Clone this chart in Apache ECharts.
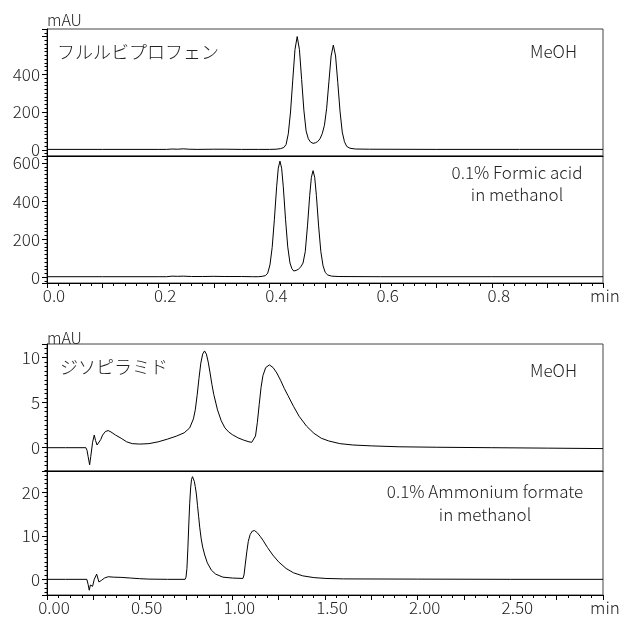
<!DOCTYPE html>
<html><head><meta charset="utf-8">
<script src="https://cdn.jsdelivr.net/npm/echarts@6/dist/echarts.min.js"></script>
<style>html,body{margin:0;padding:0;background:#fff}#c{width:624px;height:620px}</style>
</head><body><div id="c"></div>
<script>
// Flurbiprofen, MeOH (time min, mAU)
const flurMeOH = [[0,2],[0.1,2],[0.2,2],[0.215,2],[0.225,4],[0.235,3],[0.245,5],[0.255,3],[0.27,2],[0.3,3],[0.32,3],[0.35,2],[0.38,2],[0.4,2],[0.412,3],[0.42,6],[0.426,12],[0.43,28],[0.434,85],[0.438,200],[0.442,369],[0.446,531],[0.45,600],[0.454,531],[0.458,372],[0.462,210],[0.466,100],[0.47,58],[0.474,41],[0.4785,34],[0.483,37],[0.487,44],[0.491,58],[0.495,85],[0.499,130],[0.503,220],[0.507,360],[0.511,497],[0.515,555],[0.519,497],[0.523,356],[0.527,205],[0.531,94],[0.535,43],[0.539,18],[0.545,8],[0.555,4],[0.58,3],[0.7,2],[0.85,2],[1.0,2]];
// Flurbiprofen, 0.1% formic acid in methanol
const flurFormic = [[0,3],[0.1,3],[0.2,3],[0.215,3],[0.225,6],[0.235,5],[0.245,6],[0.26,4],[0.28,4],[0.3,5],[0.32,4],[0.35,4],[0.37,3],[0.38,3],[0.387,5],[0.393,9],[0.397,22],[0.401,65],[0.405,157],[0.409,305],[0.413,475],[0.416,573],[0.419,610],[0.422,573],[0.425,475],[0.429,305],[0.433,160],[0.437,75],[0.4405,45],[0.4438,33],[0.448,36],[0.452,42],[0.4565,55],[0.4605,75],[0.4645,135],[0.4685,270],[0.4725,430],[0.4755,525],[0.4785,560],[0.4815,525],[0.4845,430],[0.4885,270],[0.4925,135],[0.4965,60],[0.5005,25],[0.505,12],[0.512,6],[0.525,4],[0.6,3],[0.8,3],[1.0,3]];
// Disopyramide, MeOH
const disoMeOH = [[0,0],[0.1,0],[0.21,0],[0.216,-0.3],[0.222,-1.0],[0.23,-1.9],[0.236,-1.0],[0.246,0.6],[0.255,1.4],[0.262,0.8],[0.27,0.3],[0.28,0.3],[0.29,0.9],[0.3,1.4],[0.315,1.8],[0.33,1.9],[0.345,1.75],[0.37,1.4],[0.4,1.05],[0.43,0.65],[0.46,0.45],[0.5,0.4],[0.55,0.45],[0.6,0.65],[0.65,0.95],[0.7,1.3],[0.74,1.65],[0.77,2.2],[0.79,3.2],[0.8,4.2],[0.81,5.8],[0.82,7.7],[0.83,9.4],[0.84,10.4],[0.85,10.75],[0.86,10.4],[0.87,9.5],[0.88,8.3],[0.89,7.0],[0.9,5.9],[0.92,4.2],[0.94,3.0],[0.96,2.2],[0.98,1.75],[1.0,1.45],[1.03,1.1],[1.06,0.85],[1.09,0.65],[1.105,0.6],[1.115,0.75],[1.125,1.3],[1.135,2.8],[1.145,4.8],[1.155,6.7],[1.165,8.0],[1.18,8.9],[1.2,9.2],[1.22,8.9],[1.24,8.3],[1.26,7.5],[1.28,6.6],[1.3,5.8],[1.33,4.6],[1.36,3.5],[1.4,2.4],[1.44,1.6],[1.48,1.05],[1.52,0.75],[1.58,0.45],[1.65,0.3],[1.75,0.2],[1.9,0.1],[2.1,0.05],[2.4,0],[2.7,-0.05],[3.0,-0.1]];
// Disopyramide, 0.1% ammonium formate in methanol
const disoAmmonium = [[0,0],[0.1,0],[0.215,0],[0.222,-1.2],[0.228,-2.5],[0.234,-1.3],[0.24,-1.0],[0.246,-1.6],[0.255,0],[0.268,1.2],[0.28,-0.6],[0.295,-0.2],[0.31,0.3],[0.33,0.6],[0.36,0.5],[0.4,0.45],[0.45,0.3],[0.5,0.15],[0.55,0.05],[0.65,0],[0.745,0],[0.75,0.5],[0.755,2.5],[0.76,7],[0.765,12.5],[0.77,17.5],[0.775,21],[0.78,23],[0.785,23.6],[0.79,23.5],[0.795,22.5],[0.8,21.3],[0.806,19.6],[0.812,17],[0.818,14.5],[0.824,12],[0.832,9.3],[0.84,7.4],[0.851,5.6],[0.865,3.8],[0.887,2.1],[0.91,1.2],[0.949,0.5],[1.0,0.3],[1.057,0.2],[1.063,1.0],[1.07,3.5],[1.078,6.3],[1.086,8.7],[1.096,10.3],[1.108,11.1],[1.12,11.2],[1.135,10.7],[1.15,9.9],[1.165,9.0],[1.19,7.3],[1.218,5.6],[1.25,4.0],[1.29,2.5],[1.33,1.5],[1.38,0.8],[1.44,0.4],[1.505,0.2],[1.6,0.1],[2.0,0.05],[2.5,0],[3.0,0]];

const yLabelSteps = [200, 200, 5, 10];
const yHideAbove = [500, 1000, 100, 100];

const FONT = '"Noto Sans CJK JP","Noto Sans",sans-serif';
const TXT = '#222';
const WEIGHT = 300;
const chart = echarts.init(document.getElementById('c'), null, {renderer: 'canvas'});

const grids = [
  {left: 47, right: 21, top: 29, height: 127},
  {left: 47, right: 21, top: 156, height: 127},
  {left: 47, right: 21, top: 344, height: 127},
  {left: 47, right: 21, top: 471, height: 124}
].map(g => Object.assign(g, {show: true, borderColor: '#444', borderWidth: 1, containLabel: false}));

const yRanges = [[-33, 640], [-30, 637], [-2.59, 11.52], [-3.6, 24.9]];

function xAxisDef(i) {
  const topSec = i < 2;
  const bottomOfSec = (i === 1 || i === 3);
  const max = topSec ? 1 : 3;
  const interval = topSec ? 0.1 : 0.25;
  const lab = {fontSize: 17, color: TXT, fontFamily: FONT, fontWeight: WEIGHT};
  return {
    type: 'value', gridIndex: i, min: 0, max: max, interval: interval, position: 'bottom',
    axisLine: {show: true, onZero: false, lineStyle: {color: '#000', width: 1}},
    axisTick: {show: bottomOfSec, length: 5, lineStyle: {color: '#000'}},
    minorTick: {show: bottomOfSec, splitNumber: topSec ? 5 : 4, length: 3, lineStyle: {color: '#000'}},
    splitLine: {show: false},
    axisLabel: Object.assign({
      show: bottomOfSec, margin: 4,
      formatter: function (v) {
        if (topSec) {
          const r = Math.round(v * 10);
          if (r === 10) return '{m|min}';
          return r % 2 === 0 ? '{a|' + (r / 10).toFixed(1) + '}' : '';
        } else {
          const r = Math.round(v * 4);
          if (r === 12) return '{m|min}';
          return r % 2 === 0 ? '{a|' + (r / 4).toFixed(2) + '}' : '';
        }
      },
      rich: {
        a: Object.assign({padding: [0, 0, 0, 14]}, lab),
        m: Object.assign({padding: [0, 0, 0, 4]}, lab)
      }
    }, lab)
  };
}

function yAxisDef(i) {
  const step = yLabelSteps[i];
  return {
    type: 'value', gridIndex: i, min: yRanges[i][0], max: yRanges[i][1], splitNumber: 3,
    axisLine: {show: true, onZero: false, lineStyle: {color: '#000', width: 1}},
    axisTick: {show: true, length: 5, lineStyle: {color: '#000'}},
    minorTick: {show: true, splitNumber: 10, length: 2.5, lineStyle: {color: '#000'}},
    splitLine: {show: false},
    axisLabel: {
      margin: 7, fontSize: 17, color: TXT, fontFamily: FONT, fontWeight: WEIGHT,
      formatter: function (v) {
        const q = v / step;
        if (Math.abs(q - Math.round(q)) > 1e-6) return '';
        if (v > yHideAbove[i]) return '';
        return String(Math.round(v));
      }
    }
  };
}

const datasets = [flurMeOH, flurFormic, disoMeOH, disoAmmonium];

function txt(x, y, text, align, size, lh) {
  return {
    type: 'text', x: x, y: y, silent: true,
    style: {
      text: text, fill: TXT, font: WEIGHT + ' ' + size + 'px ' + FONT, fontSize: size, fontFamily: FONT, fontWeight: WEIGHT,
      align: align, verticalAlign: 'middle', textAlign: align, textVerticalAlign: 'middle',
      lineHeight: lh || size
    }
  };
}

chart.setOption({
  animation: false,
  backgroundColor: '#fff',
  grid: grids,
  xAxis: [0, 1, 2, 3].map(xAxisDef),
  yAxis: [0, 1, 2, 3].map(yAxisDef),
  series: datasets.map((d, i) => ({
    type: 'line', xAxisIndex: i, yAxisIndex: i, data: d,
    symbol: 'none', showSymbol: false, smooth: false,
    lineStyle: {color: '#000', width: 1}, clip: true
  })),
  graphic: [
    txt(47, 20, 'mAU', 'left', 16),
    txt(57, 52, 'フルルビプロフェン', 'left', 18),
    txt(577, 52, 'MeOH', 'right', 17),
    txt(517, 184, '0.1% Formic acid\nin methanol', 'center', 17, 22),
    txt(47, 338, 'mAU', 'left', 16),
    txt(60, 367, 'ジソピラミド', 'left', 18),
    txt(577, 371, 'MeOH', 'right', 17),
    txt(485, 503, '0.1% Ammonium formate\nin methanol', 'center', 17, 22.6)
  ]
});
</script>
</body></html>
